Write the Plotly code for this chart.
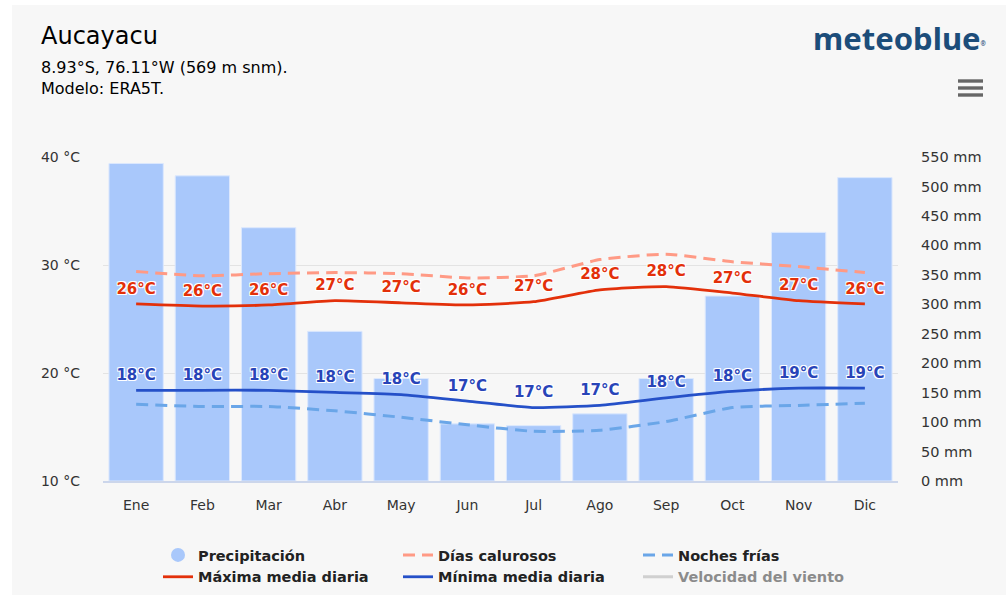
import plotly.graph_objects as go

months = ['Ene', 'Feb', 'Mar', 'Abr', 'May', 'Jun', 'Jul', 'Ago', 'Sep', 'Oct', 'Nov', 'Dic']
precip_mm = [539, 518, 430, 254, 174, 97, 94, 114, 174, 314, 422, 515]
hot_days = [29.4, 29.0, 29.2, 29.3, 29.2, 28.8, 29.0, 30.5, 31.0, 30.3, 29.85, 29.3]
max_daily = [26.4, 26.2, 26.3, 26.7, 26.5, 26.3, 26.6, 27.7, 28.0, 27.4, 26.7, 26.4]
min_daily = [18.4, 18.4, 18.4, 18.2, 18.0, 17.4, 16.8, 17.0, 17.7, 18.3, 18.6, 18.6]
cold_nights = [17.1, 16.9, 16.9, 16.5, 15.9, 15.2, 14.6, 14.7, 15.5, 16.8, 17.0, 17.2]
temp_ticks = [10, 20, 30, 40]
precip_ticks = list(range(0, 551, 50))

W, H = 1006, 595
L, R, T, B = 103, 108, 157, 114
PW, PH = W - L - R, H - T - B


def px(x):
    return (x - L) / PW


def py(y):
    return (H - B - y) / PH


FONT = 'DejaVu Sans'
outline = '-1px -1px 0 #fff, 1px -1px 0 #fff, -1px 1px 0 #fff, 1px 1px 0 #fff'
clear = 'rgba(0,0,0,0)'

fig = go.Figure()

# bars on the main axis so the temperature lines are drawn over them
fig.add_trace(go.Bar(x=months, y=precip_mm, yaxis='y', showlegend=False,
                     marker=dict(color='#a9c8fb', line=dict(color='#dce8fd', width=1)),
                     name='Precipitación'))

fig.add_trace(go.Scatter(x=[None], y=[None], mode='markers', name='Precipitación',
                         marker=dict(symbol='circle', size=14, color='#a9c8fb')))
fig.add_trace(go.Scatter(x=months, y=hot_days, yaxis='y2', mode='lines', name='Días calurosos',
                         line=dict(color='#ff9a85', width=3, dash='12px,7px', shape='spline', smoothing=0.5)))
fig.add_trace(go.Scatter(x=months, y=cold_nights, yaxis='y2', mode='lines', name='Noches frías',
                         line=dict(color='#6aa6e8', width=3, dash='12px,7px', shape='spline', smoothing=0.5)))
fig.add_trace(go.Scatter(x=months, y=max_daily, yaxis='y2', mode='lines+markers+text', name='Máxima media diaria',
                         line=dict(color='#e3300a', width=2.8, shape='spline', smoothing=0.5),
                         marker=dict(size=9, color=clear, line=dict(width=0)),
                         text=['{:.0f}°C'.format(v + 1e-9) for v in max_daily], textposition='top center',
                         textfont=dict(family=FONT, size=15, color='#e3300a', weight='bold', shadow=outline)))
fig.add_trace(go.Scatter(x=months, y=min_daily, yaxis='y2', mode='lines+markers+text', name='Mínima media diaria',
                         line=dict(color='#2550c8', width=2.8, shape='spline', smoothing=0.5),
                         marker=dict(size=9, color=clear, line=dict(width=0)),
                         text=['{:.0f}°C'.format(v + 1e-9) for v in min_daily], textposition='top center',
                         textfont=dict(family=FONT, size=15, color='#2844b8', weight='bold', shadow=outline)))
fig.add_trace(go.Scatter(x=[None], y=[None], yaxis='y2', mode='lines', name='Velocidad del viento',
                         line=dict(color='#aaaaaa', width=3), visible='legendonly'))

fig.update_layout(
    width=W, height=H,
    margin=dict(l=L, r=R, t=T, b=B),
    paper_bgcolor='#f7f7f7', plot_bgcolor='#f7f7f7',
    font=dict(family=FONT, size=14, color='#333333'),
    bargap=0.18,
    hovermode=False,
    xaxis=dict(showgrid=False, showline=True, linecolor='#ccd6eb', linewidth=2,
               range=[-0.5, len(months) - 0.5], autorange=False,
               ticks='', ticklabelstandoff=10, tickfont=dict(size=14, color='#333333'),
               fixedrange=True),
    yaxis=dict(range=[0, 550], side='right', tickvals=precip_ticks,
               ticktext=['{} mm'.format(v) for v in precip_ticks],
               showgrid=False, zeroline=False, ticklabelstandoff=22,
               tickfont=dict(size=14.5, color='#333333')),
    yaxis2=dict(range=[10, 40], overlaying='y', side='left', tickvals=temp_ticks,
                ticktext=['{} °C'.format(v) for v in temp_ticks],
                showgrid=True, gridcolor='#e3e3e3', gridwidth=1, zeroline=False,
                ticklabelstandoff=22, tickfont=dict(size=14, color='#333333')),
    legend=dict(orientation='h', x=px(158), yref='container', y=(H - 539) / H,
                xanchor='left', yanchor='top',
                entrywidth=195, bgcolor='rgba(0,0,0,0)',
                font=dict(family=FONT, size=14.5, color='#222222', weight='bold'),
                itemclick=False, itemdoubleclick=False),
    showlegend=True,
)

# white page margin around the chart card
fig.add_shape(type='rect', xref='paper', yref='paper', x0=px(0), x1=px(12), y0=py(H), y1=py(0),
              fillcolor='white', line=dict(width=0), layer='below')
fig.add_shape(type='rect', xref='paper', yref='paper', x0=px(0), x1=px(W), y0=py(5), y1=py(0),
              fillcolor='white', line=dict(width=0), layer='below')

# hamburger menu
for yy in (81, 88, 95):
    fig.add_shape(type='rect', xref='paper', yref='paper', x0=px(958), x1=px(983),
                  y0=py(yy + 1.7), y1=py(yy - 1.7), fillcolor='#666666', line=dict(width=0))

fig.add_annotation(text='Aucayacu', xref='paper', yref='paper', x=px(39), y=py(36),
                   xanchor='left', yanchor='middle', showarrow=False,
                   font=dict(family=FONT, size=24, color='#000000'))
fig.add_annotation(text='8.93°S, 76.11°W (569 m snm).<br>Modelo: ERA5T.', xref='paper', yref='paper',
                   x=px(39), y=py(78), xanchor='left', yanchor='middle', showarrow=False, align='left',
                   font=dict(family=FONT, size=16, color='#000000'))
fig.add_annotation(text='meteoblue<span style="font-size:9px"><sup>®</sup></span>',
                   xref='paper', yref='paper', x=px(988), y=py(38),
                   xanchor='right', yanchor='middle', showarrow=False,
                   font=dict(family='Noto Sans', size=31, color='#1c4d7a', weight='bold'))

fig.write_html('out.html', config={'displayModeBar': False},
               post_script="document.body.style.margin='0';document.body.style.overflow='hidden';")
